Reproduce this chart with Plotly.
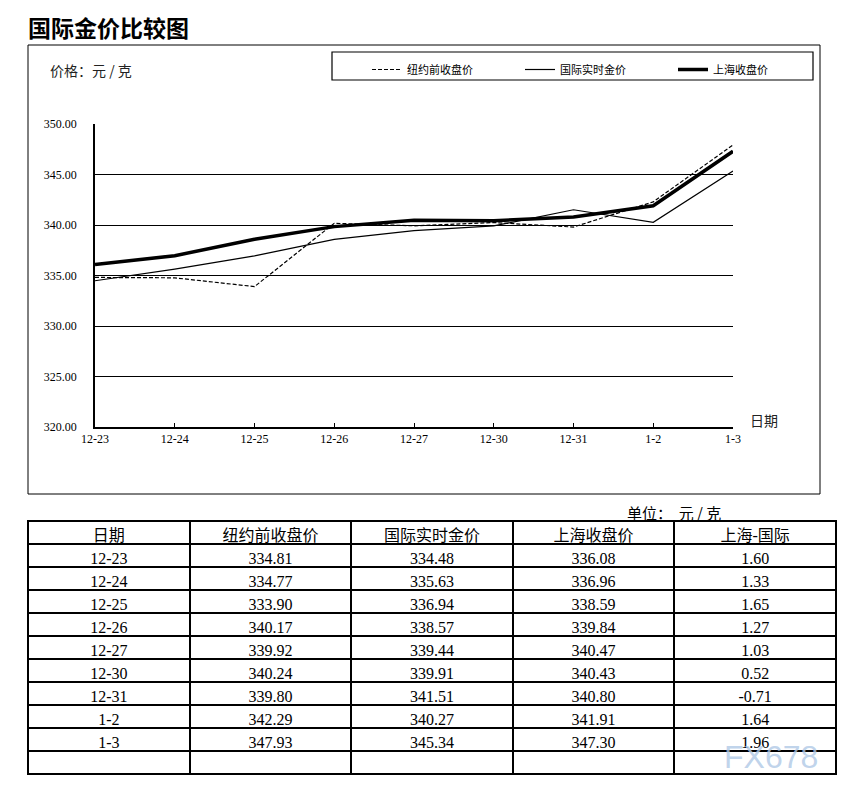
import plotly.graph_objects as go

# ---- data ----
dates = ["12-23", "12-24", "12-25", "12-26", "12-27", "12-30", "12-31", "1-2", "1-3"]
ny_close = [334.81, 334.77, 333.90, 340.17, 339.92, 340.24, 339.80, 342.29, 347.93]
intl_live = [334.48, 335.63, 336.94, 338.57, 339.44, 339.91, 341.51, 340.27, 345.34]
sh_close = [336.08, 336.96, 338.59, 339.84, 340.47, 340.43, 340.80, 341.91, 347.30]
sh_minus_intl = [1.60, 1.33, 1.65, 1.27, 1.03, 0.52, -0.71, 1.64, 1.96]

series_names = ["纽约前收盘价", "国际实时金价", "上海收盘价"]
table_header = ["日期", "纽约前收盘价", "国际实时金价", "上海收盘价", "上海-国际"]

W, H = 850, 793
def px(x):
    return x / W
def py(y):
    return 1 - y / H

SERIF = "Liberation Serif, Noto Sans CJK SC, serif"
CJK = "Noto Sans CJK SC, sans-serif"

fig = go.Figure()

fig.add_trace(go.Scatter(x=dates, y=ny_close, name=series_names[0], mode="lines",
                         line=dict(color="black", width=1.2, dash="4px,2px")))
fig.add_trace(go.Scatter(x=dates, y=intl_live, name=series_names[1], mode="lines",
                         line=dict(color="black", width=1.2)))
fig.add_trace(go.Scatter(x=dates, y=sh_close, name=series_names[2], mode="lines",
                         line=dict(color="black", width=3.5)))

def fmt(v):
    return f"{v:.2f}"

cols = [dates + [""],
        [fmt(v) for v in ny_close] + [""],
        [fmt(v) for v in intl_live] + [""],
        [fmt(v) for v in sh_close] + [""],
        [fmt(v) for v in sh_minus_intl] + [""]]

fig.add_trace(go.Table(
    domain=dict(x=[px(28), px(836)], y=[0, py(521)]),
    columnwidth=[1, 1, 1, 1, 1],
    header=dict(values=table_header, height=23, align="center",
                line=dict(color="black", width=2), fill=dict(color="white"),
                font=dict(family=SERIF, size=16, color="black")),
    cells=dict(values=cols, height=23, align="center",
               line=dict(color="black", width=2), fill=dict(color="white"),
               font=dict(family=SERIF, size=16, color="black")),
))

fig.update_layout(
    width=W, height=H,
    margin=dict(l=0, r=0, t=0, b=0, autoexpand=False),
    paper_bgcolor="white", plot_bgcolor="white",
    showlegend=True,
    legend=dict(orientation="h", x=px(367), y=py(55), xanchor="left", yanchor="top",
                bgcolor="rgba(0,0,0,0)", borderwidth=0,
                entrywidth=108, entrywidthmode="pixels",
                font=dict(family=CJK, size=11, color="black")),
    xaxis=dict(domain=[px(95), px(733)], type="category", range=[0, len(dates) - 1],
               showgrid=False, showline=True, linecolor="black", linewidth=2,
               ticks="inside", ticklen=4, tickcolor="black", tickwidth=1,
               tickfont=dict(family=SERIF, size=12, color="black"), zeroline=False),
    yaxis=dict(domain=[py(427), py(124)], range=[320, 350], dtick=5, tick0=320,
               tickformat=".2f", showgrid=True, gridcolor="black", gridwidth=1,
               showline=True, linecolor="black", linewidth=1.5, ticks="",
               ticklabelstandoff=14,
               tickfont=dict(family=SERIF, size=12, color="black"), zeroline=False),
    font=dict(family=CJK, color="black"),
)

# outer chart frame and legend box
fig.add_shape(type="rect", xref="paper", yref="paper",
              x0=px(28), x1=px(820), y0=py(494), y1=py(45),
              line=dict(color="black", width=1), layer="below")
fig.add_shape(type="rect", xref="paper", yref="paper",
              x0=px(332), x1=px(813), y0=py(80), y1=py(52),
              line=dict(color="black", width=1.2), layer="below")

annos = [
    dict(text="<b>国际金价比较图</b>", x=px(26), y=py(27), xanchor="left", yanchor="middle",
         font=dict(family=CJK, size=23, color="black")),
    dict(text="价格：元 / 克", x=px(48), y=py(70), xanchor="left", yanchor="middle",
         font=dict(family=CJK, size=14, color="#222")),
    dict(text="日期", x=px(748), y=py(420), xanchor="left", yanchor="middle",
         font=dict(family=CJK, size=14, color="#222")),
    dict(text="单位：  元 / 克", x=px(625), y=py(512), xanchor="left", yanchor="middle",
         font=dict(family=CJK, size=15, color="black")),
    dict(text="FX678", x=px(771), y=py(757), xanchor="center", yanchor="middle",
         font=dict(family="Liberation Sans, Arial, sans-serif", size=32,
                   color="rgba(175,200,230,0.8)")),
]
for a in annos:
    fig.add_annotation(xref="paper", yref="paper", showarrow=False, **a)

fig.write_html("out.html")
